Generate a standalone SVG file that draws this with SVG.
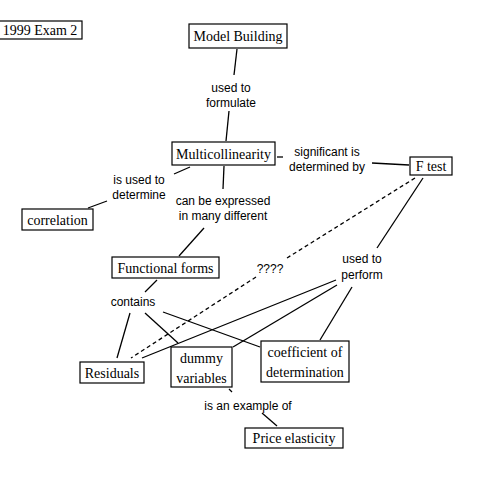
<svg xmlns="http://www.w3.org/2000/svg" width="500" height="500" viewBox="0 0 500 500">
<style>
.box{fill:#fff;stroke:#000;stroke-width:1.2}
.nt{font-family:"Liberation Serif","Times New Roman",serif;font-size:14px;fill:#000;text-anchor:middle}
.lb{font-family:"Liberation Sans",Arial,sans-serif;font-size:12px;fill:#000;text-anchor:middle}
.ln{stroke:#000;stroke-width:1.3;fill:none}
.dash{stroke-dasharray:4,3}
</style>
<rect width="500" height="500" fill="#fff"/>
<g id="connectors">
<line class="ln" x1="237" y1="49" x2="234" y2="75"/>
<line class="ln" x1="229" y1="111" x2="226" y2="141"/>
<line class="ln" x1="277" y1="157" x2="283" y2="157"/>
<line class="ln" x1="372" y1="163" x2="409" y2="165"/>
<line class="ln" x1="190" y1="167" x2="174" y2="174"/>
<line class="ln" x1="107" y1="201" x2="88" y2="208"/>
<line class="ln" x1="224" y1="166" x2="223" y2="189"/>
<line class="ln" x1="204" y1="228" x2="179" y2="256"/>
<line class="ln dash" x1="415" y1="178" x2="287" y2="258"/>
<line class="ln dash" x1="256" y1="277" x2="131" y2="358"/>
<line class="ln" x1="157" y1="280" x2="145" y2="292"/>
<line class="ln" x1="130" y1="313" x2="117" y2="358"/>
<line class="ln" x1="145" y1="313" x2="178" y2="343"/>
<line class="ln" x1="163" y1="312" x2="260" y2="347"/>
<line class="ln" x1="142" y1="358" x2="336" y2="280"/>
<line class="ln" x1="233" y1="347" x2="337" y2="285"/>
<line class="ln" x1="320" y1="340" x2="352" y2="287"/>
<line class="ln" x1="423" y1="178" x2="377" y2="248"/>
<line class="ln" x1="229" y1="389" x2="232" y2="392"/>
<line class="ln" x1="262" y1="413" x2="277" y2="426"/>
</g>
<g id="labels">
<text class="lb" x="231" y="92">used to</text>
<text class="lb" x="231" y="107">formulate</text>
<text class="lb" x="327" y="156">significant is</text>
<text class="lb" x="327" y="171">determined by</text>
<text class="lb" x="139" y="184">is used to</text>
<text class="lb" x="139" y="199">determine</text>
<text class="lb" x="223" y="205">can be expressed</text>
<text class="lb" x="223" y="220">in many different</text>
<text class="lb" x="270" y="273">????</text>
<text class="lb" x="133" y="306">contains</text>
<text class="lb" x="362" y="263">used to</text>
<text class="lb" x="362" y="279">perform</text>
<text class="lb" x="248" y="410">is an example of</text>
</g>
<g id="n-exam"><rect class="box" x="-1" y="21" width="83" height="18"/><text class="nt" x="40" y="35">1999 Exam 2</text></g>
<g id="n-model"><rect class="box" x="189" y="24" width="98" height="24"/><text class="nt" x="238" y="41">Model Building</text></g>
<g id="n-multi"><rect class="box" x="172" y="142" width="103" height="23"/><text class="nt" x="223.5" y="159">Multicollinearity</text></g>
<g id="n-ftest"><rect class="box" x="410" y="157" width="42" height="18"/><text class="nt" x="431" y="171">F test</text></g>
<g id="n-corr"><rect class="box" x="22" y="209" width="71" height="21"/><text class="nt" x="57.5" y="225">correlation</text></g>
<g id="n-func"><rect class="box" x="112" y="257" width="107" height="21"/><text class="nt" x="165.5" y="273">Functional forms</text></g>
<g id="n-resid"><rect class="box" x="80" y="362" width="64" height="21"/><text class="nt" x="112" y="378">Residuals</text></g>
<g id="n-dummy"><rect class="box" x="171" y="347" width="61" height="40"/><text class="nt" x="201.5" y="363">dummy</text><text class="nt" x="201.5" y="383">variables</text></g>
<g id="n-coef"><rect class="box" x="261" y="341" width="88" height="41"/><text class="nt" x="305" y="357">coefficient of</text><text class="nt" x="305" y="377">determination</text></g>
<g id="n-price"><rect class="box" x="245" y="428" width="98" height="20"/><text class="nt" x="294" y="443">Price elasticity</text></g>
</svg>
